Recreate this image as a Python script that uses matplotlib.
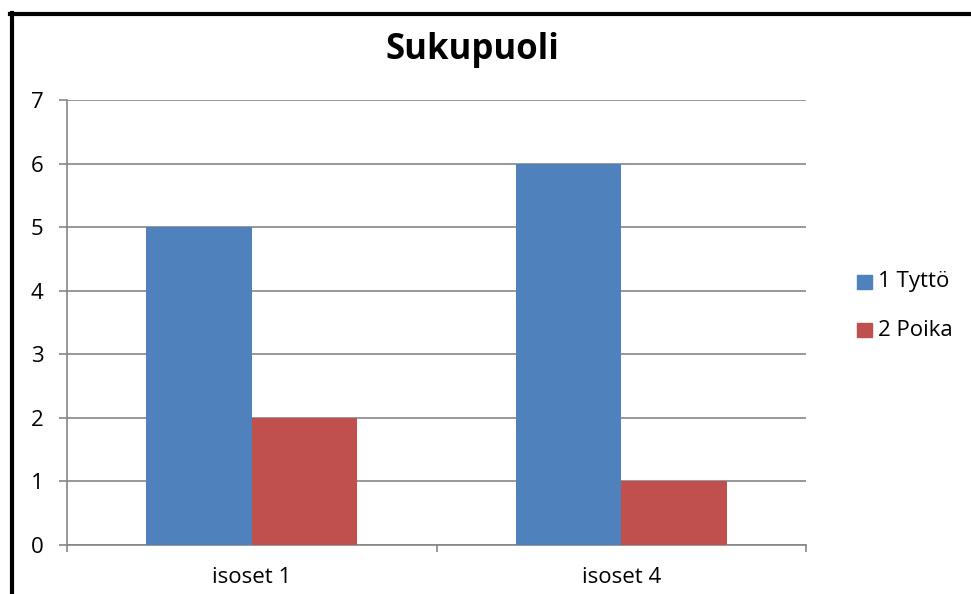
import matplotlib
matplotlib.use("Agg")
import matplotlib.pyplot as plt
from matplotlib.lines import Line2D
from matplotlib.patches import Rectangle
import numpy as np

categories = ["isoset 1", "isoset 4"]
series_names = ["1 Tyttö", "2 Poika"]
tytto = [5, 6]
poika = [2, 1]
colors = ["#4F81BD", "#C0504D"]
yticks = [0, 1, 2, 3, 4, 5, 6, 7]

plt.rcParams['font.family'] = ['Open Sans', 'DejaVu Sans']

W, H = 971, 594
FS = 16
fig = plt.figure(figsize=(W / 100, H / 100), dpi=100)
ax = fig.add_axes([67 / W, 1 - 545 / H, (806 - 67) / W, (545 - 100) / H])

x = np.arange(len(categories))
bw = 1 / 3.5
ax.bar(x - bw / 2, tytto, bw, color=colors[0], label=series_names[0], zorder=3)
ax.bar(x + bw / 2, poika, bw, color=colors[1], label=series_names[1], zorder=3)

ax.set_xlim(-0.5, len(categories) - 0.5)
ax.set_ylim(0, 7)
ax.set_yticks(yticks)
ax.set_yticklabels([str(v) for v in yticks])
ax.yaxis.grid(True, color="#868686", linewidth=1.2, zorder=0)
ax.set_axisbelow(True)
for s in ["top", "right"]:
    ax.spines[s].set_visible(False)
for s in ["left", "bottom"]:
    ax.spines[s].set_color("#868686")
    ax.spines[s].set_linewidth(1.2)
ax.tick_params(axis="y", length=6, width=1.2, color="#868686", pad=11, labelsize=FS)
ax.set_xticks([-0.5, 0.5, 1.5])
ax.set_xticklabels([])
ax.tick_params(axis="x", length=5, width=1.2, color="#868686")
ax.set_xticks(x, minor=True)
ax.set_xticklabels(categories, minor=True)
ax.tick_params(axis="x", which="minor", length=0, pad=16, labelsize=FS)

fig.text(472 / W, 1 - 50 / H, "Sukupuoli", ha="center", va="center",
         fontsize=25, fontweight="bold")

# legend
for i, (name, c) in enumerate(zip(series_names, colors)):
    yc = 282 + i * 48
    fig.patches.append(Rectangle((857 / W, 1 - (yc + 7) / H), 15 / W, 14 / H,
                                 transform=fig.transFigure, color=c))
    fig.text(878 / W, 1 - yc / H, name, ha="left", va="center", fontsize=FS)

# border
fig.lines.append(Line2D([11.5 / W, 11.5 / W], [0, 1 - 13 / H], transform=fig.transFigure,
                        color="black", linewidth=3))
fig.lines.append(Line2D([10 / W, 1], [1 - 14 / H, 1 - 14 / H], transform=fig.transFigure,
                        color="black", linewidth=3))

fig.savefig("out.png", dpi=100)
